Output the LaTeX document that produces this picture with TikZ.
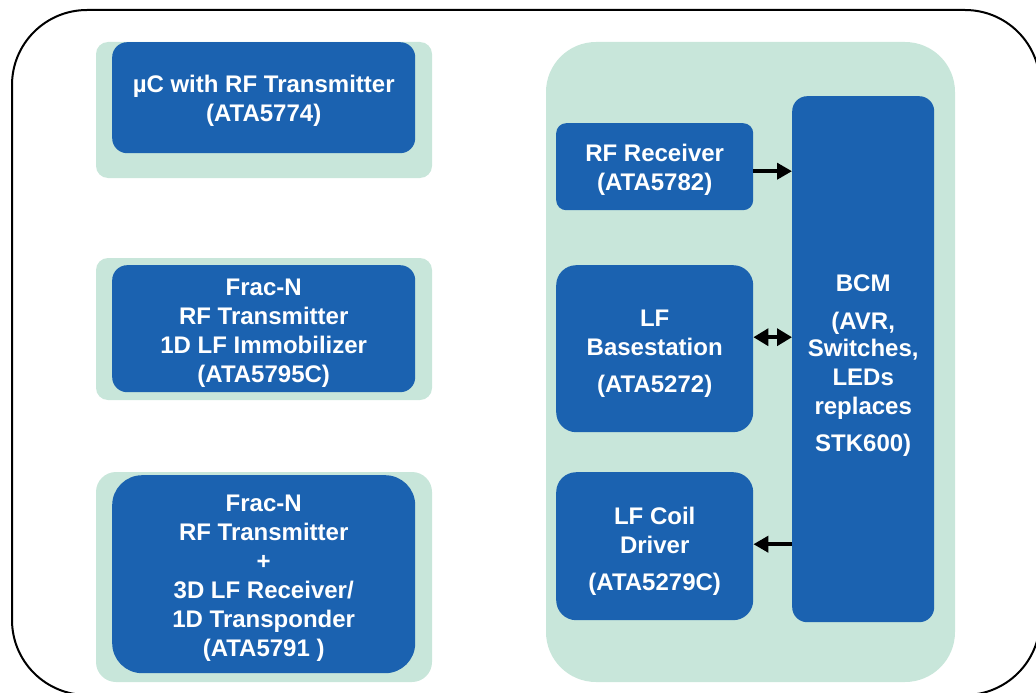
\documentclass[tikz,border=0pt]{standalone}
\usepackage{fontspec}
\setmainfont{Liberation Sans}
\usetikzlibrary{arrows.meta}
\definecolor{bgreen}{HTML}{C8E6DA}
\definecolor{bblue}{HTML}{1B62B0}
\begin{document}
\begin{tikzpicture}[x=1pt,y=-1pt,
  panel/.style={fill=bgreen, draw=none},
  block/.style={fill=bblue, draw=none, inner sep=0pt, anchor=north west},
  txt/.style={text=white, font=\bfseries\fontsize{24}{29}\selectfont, align=center, inner sep=0pt},
  conn/.style={line width=4pt, -{Triangle[length=15pt,width=16pt]}},
  dconn/.style={line width=3.5pt, {Triangle[length=15pt,width=17pt]}-{Triangle[length=15pt,width=17pt]}}]
\useasboundingbox (0,0) rectangle (1036,693);
\clip (0,0) rectangle (1036,693);
\draw[line width=2pt, rounded corners=75pt] (12,10) rectangle (1040,695);
% panels
\fill[panel, rounded corners=12pt] (96,42) rectangle (432,178);
\fill[panel, rounded corners=12pt] (96,258) rectangle (432,400);
\fill[panel, rounded corners=20pt] (96,472) rectangle (432,682);
\fill[panel, rounded corners=50pt] (546,42) rectangle (955,682);
% blocks
\node[block, minimum width=303pt, minimum height=111pt, rounded corners=15pt] (tx1) at (112,42) {};
\node[block, minimum width=303pt, minimum height=127pt, rounded corners=15pt] (tx2) at (112,265) {};
\node[block, minimum width=303pt, minimum height=198pt, rounded corners=30pt] (tx3) at (112,475) {};
\node[block, minimum width=197pt, minimum height=87pt, rounded corners=10pt] (rf) at (556,123) {};
\node[block, minimum width=197pt, minimum height=167pt, rounded corners=20pt] (lf) at (556,265) {};
\node[block, minimum width=197pt, minimum height=148pt, rounded corners=20pt] (coil) at (556,472) {};
\node[block, minimum width=142pt, minimum height=526pt, rounded corners=15pt] (bcm) at (792,96) {};
% texts
\node[txt] (tx1t) at ([yshift=-3pt]tx1.center) {µC with RF Transmitter\\(ATA5774)};
\node[txt] (tx2t) at ([yshift=-5pt]tx2.center) {Frac-N\\RF Transmitter\\1D LF Immobilizer\\(ATA5795C)};
\node[txt] (tx3t) at ([yshift=-4pt]tx3.center) {Frac-N\\RF Transmitter\\+\\3D LF Receiver/\\1D Transponder\\(ATA5791 )};
\node[txt] (rft) at ([yshift=-3pt]rf.center) {RF Receiver\\(ATA5782)};
\node[txt] (lft) at ([yshift=-5pt]lf.center) {LF\\Basestation\\[8pt](ATA5272)};
\node[txt] (coilt) at ([yshift=-5pt]coil.center) {LF Coil\\Driver\\[8pt](ATA5279C)};
\node[txt] (bcmt) at ([yshift=-6pt]bcm.center) {BCM\\[9pt](AVR,\\[-2pt]Switches,\\LEDs\\replaces\\[8pt]STK600)};
% connectors
\draw[conn] ([yshift=-4.5pt]rf.east) -- ([yshift=-4.5pt]rf.east -| bcm.west);
\draw[dconn] ([yshift=11.5pt]lf.east) -- ([yshift=11.5pt]lf.east -| bcm.west);
\draw[conn] ([yshift=2pt]coil.east -| bcm.west) -- ([yshift=2pt]coil.east);
\end{tikzpicture}
\end{document}
